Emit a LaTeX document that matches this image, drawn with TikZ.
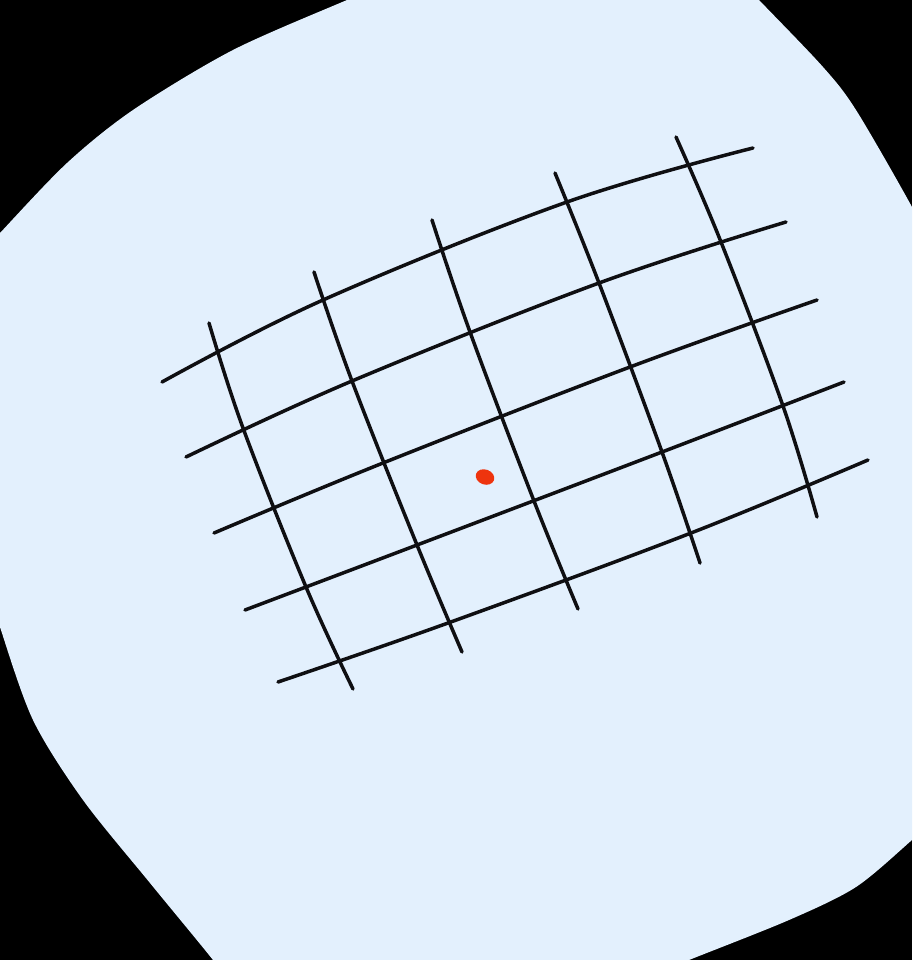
\documentclass[tikz,border=0pt]{standalone}
\usetikzlibrary{calc}
\definecolor{bgblue}{RGB}{227,240,253}
\definecolor{ink}{RGB}{15,15,18}
\definecolor{dotred}{RGB}{238,52,14}
\begin{document}
\begin{tikzpicture}[x=1pt,y=-1pt,
  gridline/.style={draw=ink,line width=3.5pt,line cap=round,line join=round},
  dotstyle/.style={fill=dotred}]
\useasboundingbox (0,0) rectangle (912,960);
\fill[black] (0,0) rectangle (912,960);
\begin{scope}
\clip (0,0) rectangle (912,960);
\fill[bgblue] plot[smooth] coordinates {(-40,277) (0,233) (67,163) (133,110) (233,50) (347,0) (400,-22)}
  -- (720,-30)
  -- plot[smooth] coordinates {(735,-25) (759,0) (823,67) (856,110) (912,207) (935,255)}
  -- (945,800)
  -- plot[smooth] coordinates {(940,815) (912,840) (856,887) (789,920) (689,960) (640,980)}
  -- (250,995)
  -- plot[smooth] coordinates {(230,985) (213,960) (150,883) (83,800) (33,720) (0,627) (-10,590)}
  -- cycle;
\end{scope}
% horizontal-ish lines
\draw[gridline] plot[smooth,tension=0.6] coordinates {(162,382) (323,300) (567,202) (753,148)};
\draw[gridline] plot[smooth,tension=0.6] coordinates {(186,457) (352,381) (599,283) (786,222)};
\draw[gridline] plot[smooth,tension=0.6] coordinates {(214,533) (383,463) (630,367) (817,300)};
\draw[gridline] plot[smooth,tension=0.6] coordinates {(245,610) (417,545) (662,452) (844,382)};
\draw[gridline] plot[smooth,tension=0.6] coordinates {(278,682) (448,623) (691,533) (868,460)};
% vertical-ish lines
\draw[gridline] plot[smooth,tension=0.6] coordinates {(209,323) (243,428) (306,587) (353,689)};
\draw[gridline] plot[smooth,tension=0.6] coordinates {(314,272) (352,381) (417,545) (462,652)};
\draw[gridline] plot[smooth,tension=0.6] coordinates {(432,220) (470,332) (534,501) (578,609)};
\draw[gridline] plot[smooth,tension=0.6] coordinates {(555,173) (599,283) (662,452) (700,563)};
\draw[gridline] plot[smooth,tension=0.6] coordinates {(676,137) (721,242) (783,406) (817,517)};
% red dot
\coordinate (dot) at (485,477);
\fill[dotstyle,rotate around={-20:(dot)}] (dot) ellipse [x radius=9.5, y radius=7.5];
\end{tikzpicture}
\end{document}
